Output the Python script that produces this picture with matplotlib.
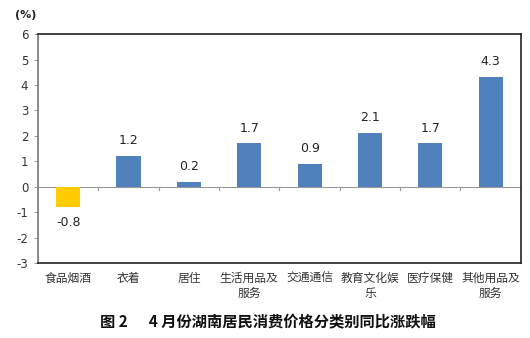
import matplotlib.pyplot as plt
import numpy as np

plt.rcParams['font.family'] = ['Noto Sans CJK SC', 'DejaVu Sans']

# Year-on-year change by category (%)
categories = ['食品烟酒', '衣着', '居住', '生活用品及\n服务', '交通通信',
              '教育文化娱\n乐', '医疗保健', '其他用品及\n服务']
values = [-0.8, 1.2, 0.2, 1.7, 0.9, 2.1, 1.7, 4.3]
yticks = [-3, -2, -1, 0, 1, 2, 3, 4, 5, 6]

blue = '#4F81BD'
yellow = '#FFCC00'
colors = [yellow if v < 0 else blue for v in values]

fig = plt.figure(figsize=(5.3, 3.38), dpi=100)
ax = fig.add_axes([0.0717, 0.222, 0.911, 0.677])

x = np.arange(len(categories))
ax.bar(x, values, width=0.4, color=colors, zorder=3)

for xi, v in zip(x, values):
    if v >= 0:
        ax.text(xi, v + 0.35, f'{v:.1f}', ha='center', va='bottom', fontsize=9,
                color='#222222', family='DejaVu Sans')
    else:
        ax.text(xi, v - 0.35, f'{v:.1f}', ha='center', va='top', fontsize=9,
                color='#222222', family='DejaVu Sans')

ax.set_xlim(-0.5, len(categories) - 0.5)
ax.set_ylim(-3, 6)
ax.set_yticks(yticks)
ax.set_yticklabels([str(t) for t in yticks], fontsize=8.5, color='#333333',
                   family='DejaVu Sans')
ax.tick_params(axis='y', length=3, width=0.6, color='#888888', pad=4)

# zero line with category separators
ax.axhline(0, color='#999999', lw=0.8, zorder=2)
for b in np.arange(0.5, len(categories) - 1, 1.0):
    ax.plot([b, b], [0, -0.12], color='#999999', lw=0.8, zorder=2, clip_on=False)

ax.set_xticks([])
for xi, lab in zip(x, categories):
    ax.text(xi, -3.35, lab, ha='center', va='top', fontsize=8.5, color='#333333',
            linespacing=1.2)

for side in ['left', 'right', 'top', 'bottom']:
    ax.spines[side].set_color('#222222')
    ax.spines[side].set_linewidth(1.2)
ax.spines['left'].set_color('#777777')

fig.text(0.028, 0.955, '(%)', fontsize=8, fontweight='bold', color='#222222',
         family='DejaVu Sans', va='center')
fig.text(0.505, 0.045, '图 2      4 月份湖南居民消费价格分类别同比涨跌幅', ha='center',
         va='center', fontsize=11, fontweight='bold', color='#111111')

fig.savefig('out.png', dpi=100)
